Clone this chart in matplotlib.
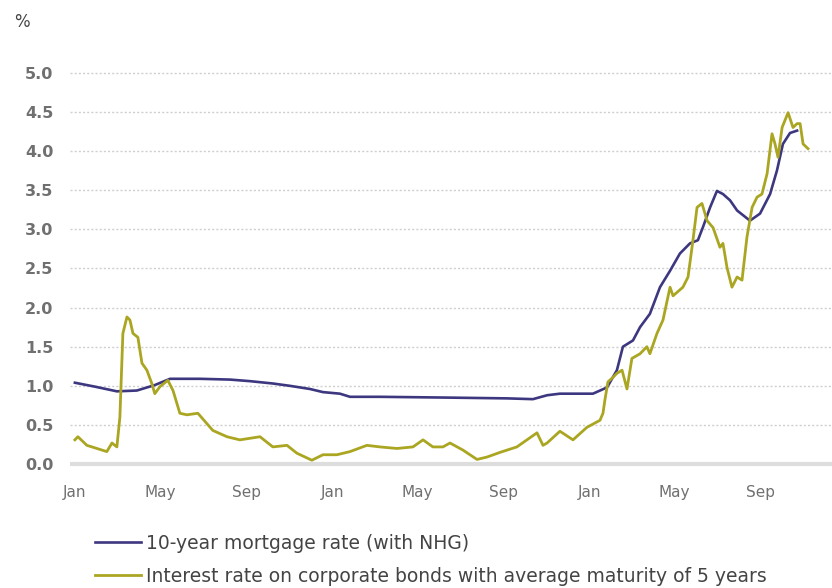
import matplotlib

matplotlib.use("Agg")
import matplotlib.pyplot as plt
import matplotlib.dates as mdates
import numpy as np
import pandas as pd

# months since 1 Jan 2020
mortgage_months = [
    0.0, 0.93, 1.96, 2.89, 3.73, 4.44, 5.84, 7.24, 8.17, 9.24, 10.04, 10.97,
    11.58, 12.37, 12.84, 14.24, 17.37, 20.17, 21.38, 22.04, 22.64, 24.18,
    24.84, 25.30, 25.58, 26.05, 26.38, 26.84, 27.31, 27.78, 28.24, 28.71,
    29.08, 29.32, 29.65, 29.97, 30.25, 30.58, 30.91, 31.51, 31.98, 32.45,
    32.77, 33.05, 33.38, 33.71,
]
mortgage_rate = [
    1.04, 0.99, 0.93, 0.94, 1.01, 1.09, 1.09, 1.08, 1.06, 1.03, 1.00, 0.96,
    0.92, 0.90, 0.86, 0.86, 0.85, 0.84, 0.83, 0.88, 0.90, 0.90,
    0.98, 1.20, 1.50, 1.58, 1.75, 1.92, 2.26, 2.47, 2.69, 2.82,
    2.86, 3.03, 3.28, 3.49, 3.45, 3.37, 3.24, 3.11, 3.20, 3.45,
    3.75, 4.09, 4.23, 4.26,
]

bond_months = [
    0.0, 0.14, 0.56, 1.03, 1.49, 1.73, 1.96, 2.10, 2.24, 2.43, 2.57, 2.71,
    2.94, 3.13, 3.36, 3.59, 3.73, 3.97, 4.34, 4.58, 4.90, 5.23, 5.74, 6.44,
    7.10, 7.70, 8.64, 9.24, 9.90, 10.36, 11.06, 11.58, 12.23, 12.84, 13.63,
    14.24, 15.03, 15.78, 16.25, 16.71, 17.18, 17.51, 18.11, 18.77, 19.23,
    19.84, 20.63, 21.10, 21.57, 21.85, 22.04, 22.64, 23.25, 23.90, 24.51,
    24.65, 24.74, 24.88, 25.12, 25.30, 25.54, 25.77, 26.00, 26.38, 26.70,
    26.84, 27.17, 27.45, 27.78, 27.92, 28.38, 28.62, 28.85, 29.04, 29.27,
    29.51, 29.79, 30.11, 30.25, 30.44, 30.67, 30.91, 31.14, 31.37, 31.61,
    31.84, 32.07, 32.31, 32.54, 32.68, 32.82, 33.01, 33.29, 33.52, 33.71,
    33.85, 33.99, 34.22,
]
bond_rate = [
    0.31, 0.35, 0.24, 0.20, 0.16, 0.27, 0.22, 0.60, 1.67, 1.88, 1.84, 1.67,
    1.62, 1.29, 1.20, 1.03, 0.90, 0.99, 1.07, 0.94, 0.65, 0.63, 0.65, 0.43,
    0.35, 0.31, 0.35, 0.22, 0.24, 0.14, 0.05, 0.12, 0.12, 0.16, 0.24,
    0.22, 0.20, 0.22, 0.31, 0.22, 0.22, 0.27, 0.18, 0.06, 0.09,
    0.15, 0.22, 0.31, 0.40, 0.24, 0.27, 0.42, 0.31, 0.47, 0.56,
    0.65, 0.82, 1.05, 1.11, 1.16, 1.20, 0.96, 1.35, 1.41, 1.50,
    1.41, 1.67, 1.84, 2.26, 2.15, 2.26, 2.39, 2.86, 3.28, 3.33,
    3.11, 3.02, 2.77, 2.82, 2.51, 2.26, 2.39, 2.35, 2.90, 3.28,
    3.41, 3.45, 3.71, 4.22, 4.09, 3.92, 4.30, 4.49, 4.30, 4.35,
    4.35, 4.09, 4.03,
]

mortgage_label = "10-year mortgage rate (with NHG)"
bond_label = "Interest rate on corporate bonds with average maturity of 5 years"
y_ticks = [0.0, 0.5, 1.0, 1.5, 2.0, 2.5, 3.0, 3.5, 4.0, 4.5, 5.0]

START = pd.Timestamp("2020-01-01")


def to_dates(months):
    return START + pd.to_timedelta(np.array(months) * 30.4375, unit="D")


BLUE = "#3d3780"
YELLOW = "#aaa622"

fig = plt.figure(figsize=(8.32, 5.88), dpi=100)
ax = fig.add_axes([0.0841, 0.204, 0.9159, 0.679])

ax.plot(to_dates(mortgage_months), mortgage_rate, color=BLUE, lw=1.9,
        label=mortgage_label, zorder=3)
ax.plot(to_dates(bond_months), bond_rate, color=YELLOW, lw=2.0,
        label=bond_label, zorder=4)

ax.set_ylim(-0.05, 5.05)
ax.set_xlim(to_dates([-0.23])[0], to_dates([35.34])[0])
ax.set_yticks(y_ticks)
ax.set_yticklabels([f"{v:.1f}" for v in y_ticks])

ax.xaxis.set_major_locator(mdates.MonthLocator(bymonth=[1, 5, 9]))
ax.xaxis.set_major_formatter(mdates.DateFormatter("%b"))

for v in y_ticks[1:]:
    ax.axhline(v, color="#cfcfcf", lw=1.0, ls=(0, (1.5, 1.5)), zorder=1)
ax.axhline(0.0, color="#dddddd", lw=3.0, zorder=2)

for side in ["top", "right", "left", "bottom"]:
    ax.spines[side].set_visible(False)
ax.tick_params(axis="both", length=0)
ax.tick_params(axis="y", pad=12, labelsize=11.5, labelcolor="#707070")
ax.tick_params(axis="x", pad=12, labelsize=11, labelcolor="#707070")
for lab in ax.get_yticklabels():
    lab.set_fontweight("bold")

fig.text(0.017, 0.962, "%", fontsize=12, color="#444444", ha="left", va="center")

fig.legend(
    loc="upper left",
    bbox_to_anchor=(0.114, 0.092),
    frameon=False,
    fontsize=13.5,
    handlelength=2.45,
    handletextpad=0.3,
    labelspacing=0.75,
    labelcolor="#444444",
    borderaxespad=0,
    borderpad=0,
)

fig.savefig("out.png", dpi=100)
